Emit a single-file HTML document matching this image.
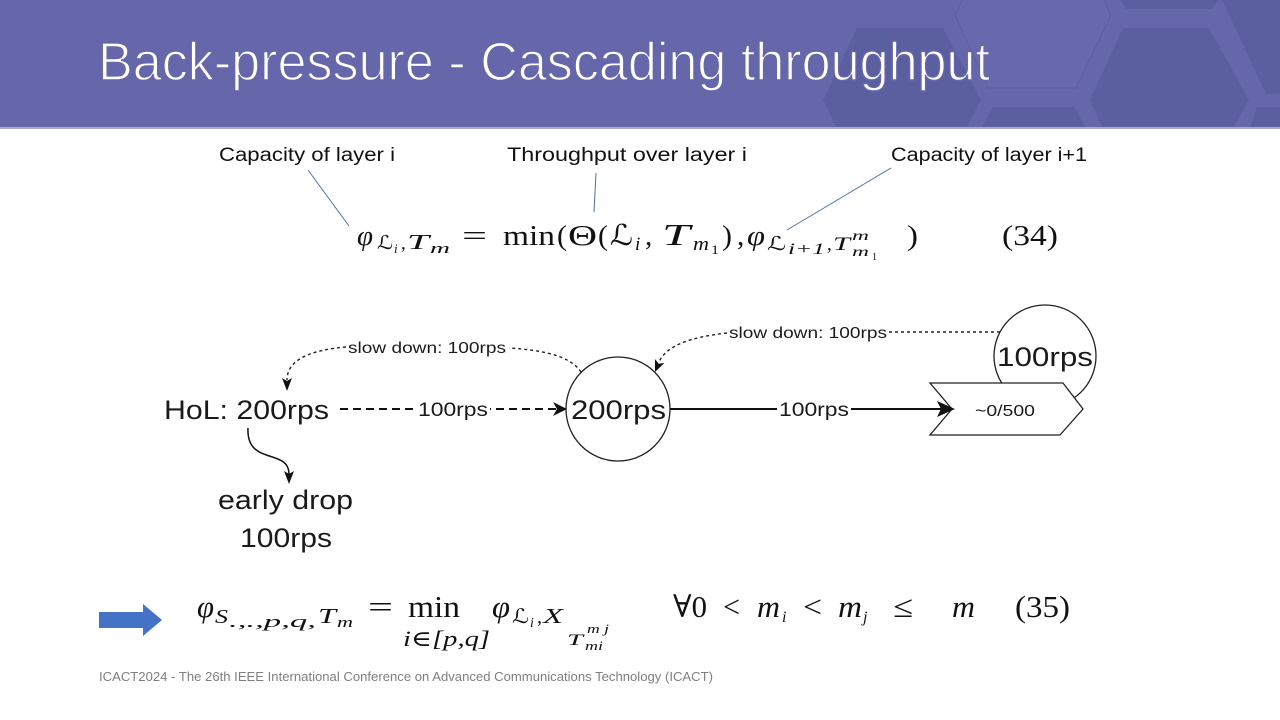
<!DOCTYPE html>
<html>
<head>
<meta charset="utf-8">
<style>
html,body{margin:0;padding:0;background:#fff;}
svg{display:block;}
.ti{font-family:"Liberation Sans",sans-serif;}
.lb{font-family:"Liberation Sans",sans-serif;fill:#111;}
.m{font-family:"Liberation Serif","DejaVu Serif",serif;fill:#111;}
.it{font-style:italic;}
.dg{font-family:"Liberation Sans",sans-serif;fill:#1a1a1a;}
</style>
</head>
<body>
<svg width="1280" height="720" viewBox="0 0 1280 720" xmlns="http://www.w3.org/2000/svg">
  <!-- Header banner -->
  <defs>
    <clipPath id="hc"><rect x="0" y="0" width="1280" height="128"/></clipPath>
  </defs>
  <rect x="0" y="0" width="1280" height="128" fill="#6667AB"/>
  <g clip-path="url(#hc)" fill="#5B5F9F">
    <polygon points="823,100 857,28 943,28 981,100 943,172 857,172"/>
    <polygon points="955,15 990,-58 1076,-58 1111,15 1076,88 988,88" fill="#6869AD" stroke="#5E619F" stroke-width="1.5"/>
    <polygon points="1120,0 1218,0 1212,9 1126,9"/>
    <polygon points="1090,100 1123,28 1209,28 1249,100 1209,172 1123,172"/>
    <polygon points="1222,0 1280,0 1280,94 1266,94"/>
    <polygon points="981,128 993,107 1074,107 1086,128"/>
    <polygon points="1250,128 1257,107 1280,107 1280,128"/>
  </g>
  <rect x="0" y="127" width="1280" height="2" fill="#A9AAD0"/>
  <text class="ti" x="98" y="80" font-size="54" fill="#ffffff" stroke="#6667AB" stroke-width="1.4" textLength="892" lengthAdjust="spacingAndGlyphs">Back-pressure - Cascading throughput</text>

  <!-- Annotation labels -->
  <text class="lb" x="219" y="161" font-size="19" textLength="176" lengthAdjust="spacingAndGlyphs">Capacity of layer i</text>
  <text class="lb" x="507" y="161" font-size="19" textLength="240" lengthAdjust="spacingAndGlyphs">Throughput over layer i</text>
  <text class="lb" x="891" y="161" font-size="19" textLength="196" lengthAdjust="spacingAndGlyphs">Capacity of layer i+1</text>
  <g stroke="#4F72A8" stroke-width="1">
    <line x1="308" y1="170" x2="349" y2="226"/>
    <line x1="596" y1="173" x2="594" y2="212"/>
    <line x1="891" y1="168" x2="787" y2="230"/>
  </g>

  <!-- Equation 34 -->
  <g class="m">
    <text class="it" x="357" y="245" font-size="29" textLength="16" lengthAdjust="spacingAndGlyphs">φ</text>
    <text x="377" y="249" font-size="19" textLength="16" lengthAdjust="spacingAndGlyphs">ℒ</text>
    <text class="it" x="394" y="253" font-size="13">i</text>
    <text x="401" y="249" font-size="19">,</text>
    <text class="it" x="407" y="249" font-size="21" textLength="22" lengthAdjust="spacingAndGlyphs">T</text>
    <text class="it" x="430" y="253" font-size="15" textLength="20" lengthAdjust="spacingAndGlyphs">m</text>
    <text x="462" y="245" font-size="29" textLength="25" lengthAdjust="spacingAndGlyphs">=</text>
    <text x="503" y="245" font-size="29" textLength="52" lengthAdjust="spacingAndGlyphs">min</text>
    <text x="557" y="245" font-size="29" textLength="10" lengthAdjust="spacingAndGlyphs">(</text>
    <text x="568" y="245" font-size="29" textLength="29" lengthAdjust="spacingAndGlyphs">Θ</text>
    <text x="598" y="245" font-size="29" textLength="10" lengthAdjust="spacingAndGlyphs">(</text>
    <text x="610" y="245" font-size="29" textLength="23" lengthAdjust="spacingAndGlyphs">ℒ</text>
    <text class="it" x="635" y="250" font-size="19">i</text>
    <text x="645" y="245" font-size="29">,</text>
    <text class="it" x="662" y="245" font-size="31" textLength="28" lengthAdjust="spacingAndGlyphs">T</text>
    <text class="it" x="693" y="250" font-size="19" textLength="16" lengthAdjust="spacingAndGlyphs">m</text>
    <text x="711" y="254" font-size="13" textLength="8" lengthAdjust="spacingAndGlyphs">1</text>
    <text x="722" y="245" font-size="29" textLength="10" lengthAdjust="spacingAndGlyphs">)</text>
    <text x="737" y="245" font-size="29">,</text>
    <text class="it" x="747" y="245" font-size="29" textLength="18" lengthAdjust="spacingAndGlyphs">φ</text>
    <text x="767" y="250" font-size="19" textLength="19" lengthAdjust="spacingAndGlyphs">ℒ</text>
    <text class="it" x="788" y="254" font-size="16" textLength="37" lengthAdjust="spacingAndGlyphs">i+1</text>
    <text x="827" y="250" font-size="19">,</text>
    <text class="it" x="833" y="250" font-size="19" textLength="17" lengthAdjust="spacingAndGlyphs">T</text>
    <text class="it" x="852" y="240" font-size="14" textLength="17" lengthAdjust="spacingAndGlyphs">m</text>
    <text class="it" x="852" y="256" font-size="14" textLength="17" lengthAdjust="spacingAndGlyphs">m</text>
    <text x="872" y="260" font-size="10">1</text>
    <text x="907" y="245" font-size="29" textLength="11" lengthAdjust="spacingAndGlyphs">)</text>
    <text x="1002" y="245" font-size="29" textLength="56" lengthAdjust="spacingAndGlyphs">(34)</text>
  </g>

  <!-- Diagram -->
  <circle cx="618" cy="409" r="52" fill="#fff" stroke="#222" stroke-width="1.3"/>
  <circle cx="1045" cy="356" r="51" fill="#fff" stroke="#222" stroke-width="1.3"/>
  <polygon points="930,383 1063,383 1083,409 1060,435 930,435 952,409" fill="#fff" stroke="#222" stroke-width="1.3"/>

  <line x1="340" y1="409" x2="556" y2="409" stroke="#111" stroke-width="2" stroke-dasharray="8 5"/>
  <rect x="416" y="398" width="74" height="22" fill="#fff"/>
  <polygon points="567,409 553,402 557,409 553,416" fill="#111"/>

  <line x1="670" y1="409" x2="942" y2="409" stroke="#111" stroke-width="2"/>
  <rect x="777" y="398" width="74" height="22" fill="#fff"/>
  <polygon points="955,409 937,401 941,409 937,417" fill="#111"/>

  <g fill="none" stroke="#222" stroke-width="1.4" stroke-dasharray="3 3">
    <path d="M581,372 C570,355 540,350 509,348"/>
    <path d="M346,347 C310,350 287,360 287,380"/>
    <path d="M889,332 L1000,332"/>
    <path d="M727,333 C690,337 666,346 659,362"/>
  </g>
  <polygon points="287,391 282,378 287,381 292,378" fill="#111"/>
  <polygon points="655,372 655,359 658.6,363.7 664.4,363" fill="#111"/>

  <path d="M248,428 C246,466 289,448 289,474" fill="none" stroke="#111" stroke-width="1.5"/>
  <polygon points="289,484 284,471 289,474 294,471" fill="#111"/>

  <text class="dg" x="164" y="419" font-size="27" textLength="165" lengthAdjust="spacingAndGlyphs">HoL: 200rps</text>
  <text class="dg" x="418" y="416" font-size="19" textLength="70" lengthAdjust="spacingAndGlyphs">100rps</text>
  <text class="dg" x="571" y="419" font-size="27" textLength="95" lengthAdjust="spacingAndGlyphs">200rps</text>
  <text class="dg" x="779" y="416" font-size="19" textLength="70" lengthAdjust="spacingAndGlyphs">100rps</text>
  <text class="dg" x="975" y="416" font-size="16" textLength="60" lengthAdjust="spacingAndGlyphs">~0/500</text>
  <text class="dg" x="997" y="366" font-size="27" textLength="96" lengthAdjust="spacingAndGlyphs">100rps</text>
  <text class="dg" x="348" y="353" font-size="16" textLength="158" lengthAdjust="spacingAndGlyphs">slow down: 100rps</text>
  <text class="dg" x="729" y="338" font-size="16" textLength="158" lengthAdjust="spacingAndGlyphs">slow down: 100rps</text>
  <text class="dg" x="218" y="509" font-size="27" textLength="135" lengthAdjust="spacingAndGlyphs">early drop</text>
  <text class="dg" x="240" y="547" font-size="27" textLength="92" lengthAdjust="spacingAndGlyphs">100rps</text>

  <polygon points="99,612 143,612 143,604 162,620 143,636 143,628 99,628" fill="#4472C4"/>

  <!-- Equation 35 -->
  <g class="m">
    <text class="it" x="197" y="617" font-size="31" textLength="17" lengthAdjust="spacingAndGlyphs">φ</text>
    <text class="it" x="215" y="623" font-size="20" textLength="13" lengthAdjust="spacingAndGlyphs">S</text>
    <text class="it" x="229" y="627" font-size="17" textLength="87" lengthAdjust="spacingAndGlyphs">.,.,p,q,</text>
    <text class="it" x="318" y="623" font-size="21" textLength="18" lengthAdjust="spacingAndGlyphs">T</text>
    <text class="it" x="337" y="627" font-size="15" textLength="16" lengthAdjust="spacingAndGlyphs">m</text>
    <text x="368" y="617" font-size="31" textLength="25" lengthAdjust="spacingAndGlyphs">=</text>
    <text x="408" y="617" font-size="31" textLength="52" lengthAdjust="spacingAndGlyphs">min</text>
    <text class="it" x="403" y="646" font-size="22" textLength="87" lengthAdjust="spacingAndGlyphs">i∈[p,q]</text>
    <text class="it" x="492" y="617" font-size="31" textLength="18" lengthAdjust="spacingAndGlyphs">φ</text>
    <text x="512" y="623" font-size="20" textLength="17" lengthAdjust="spacingAndGlyphs">ℒ</text>
    <text class="it" x="530" y="627" font-size="14">i</text>
    <text x="537" y="623" font-size="20">,</text>
    <text class="it" x="543" y="623" font-size="21" textLength="20" lengthAdjust="spacingAndGlyphs">X</text>
    <text class="it" x="567" y="645" font-size="16" textLength="16" lengthAdjust="spacingAndGlyphs">T</text>
    <text class="it" x="585" y="650" font-size="13" textLength="18" lengthAdjust="spacingAndGlyphs">mi</text>
    <text class="it" x="587" y="633" font-size="13" textLength="22" lengthAdjust="spacingAndGlyphs">m j</text>
    <text x="673" y="617" font-size="31" textLength="34" lengthAdjust="spacingAndGlyphs">∀0</text>
    <text x="723" y="617" font-size="31" textLength="17" lengthAdjust="spacingAndGlyphs">&lt;</text>
    <text class="it" x="757" y="617" font-size="31" textLength="23" lengthAdjust="spacingAndGlyphs">m</text>
    <text class="it" x="782" y="622" font-size="16">i</text>
    <text x="803" y="617" font-size="31" textLength="19" lengthAdjust="spacingAndGlyphs">&lt;</text>
    <text class="it" x="838" y="617" font-size="31" textLength="24" lengthAdjust="spacingAndGlyphs">m</text>
    <text class="it" x="863" y="622" font-size="16">j</text>
    <text x="893" y="617" font-size="31" textLength="20" lengthAdjust="spacingAndGlyphs">≤</text>
    <text class="it" x="952" y="617" font-size="31" textLength="23" lengthAdjust="spacingAndGlyphs">m</text>
    <text x="1015" y="617" font-size="31" textLength="55" lengthAdjust="spacingAndGlyphs">(35)</text>
  </g>

  <text class="ti" x="99" y="681" font-size="13" fill="#7F7F7F" textLength="614" lengthAdjust="spacingAndGlyphs">ICACT2024 - The 26th IEEE International Conference on Advanced Communications Technology (ICACT)</text>
</svg>
</body>
</html>
